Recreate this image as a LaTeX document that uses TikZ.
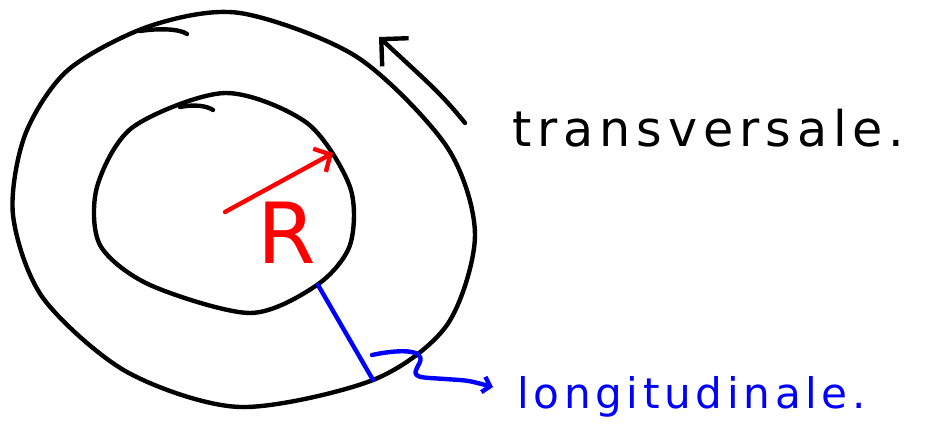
\documentclass[tikz,border=0pt]{standalone}
\usepackage{fontspec}
\usepackage{tikz}
\usetikzlibrary{arrows.meta,positioning}

\newfontfamily\handfont[LetterSpace=12]{DejaVu Sans}
\newfontfamily\handwide[LetterSpace=11]{DejaVu Sans}

\tikzset{
  pen/.style={line width=2.5pt, line cap=round, line join=round},
  redpen/.style={pen, red},
  bluepen/.style={pen, blue},
  word/.style={inner sep=0pt, anchor=base west},
}

\begin{document}
\begin{tikzpicture}[x=0.02cm, y=-0.02cm]
\useasboundingbox (0,0) rectangle (928,442);

% Outer ring
\draw[pen] plot[smooth cycle] coordinates {(240,13) (357,57) (447,147) (475,235) (447,325)
    (373,380) (240,407) (127,372) (43,298) (13,215) (25,135) (68,70) (150,26)};
\draw[pen] (140,31) .. controls (160,28) and (180,29) .. (187,34);

% Inner ring
\draw[pen] plot[smooth cycle] coordinates {(225,93) (307,123) (350,187) (350,245) (317,285)
    (250,313) (150,285) (100,245) (97,187) (133,127)};
\draw[pen] (180,107) .. controls (195,104) and (207,106) .. (213,110);

% Radius
\coordinate (centre) at (225,212);
\coordinate (rim) at (333,153);
\draw[redpen, -{Straight Barb[length=7pt, width=15pt]}] (centre) -- (rim);
\node[red, inner sep=0pt, font=\handfont\fontsize{48}{48}\selectfont] (rad) at (287,233) {R};

% Transversal direction
\node[word, font=\handfont\fontsize{28}{28}\selectfont] (trans) at (512,147) {transversale.};
\coordinate (tstart) at (465,123);
\coordinate (ttip) at (379,37);
\draw[pen, -{Straight Barb[length=11pt, width=22pt]}] (tstart) .. controls (440,92) and (425,80) .. (ttip);

% Longitudinal direction
\node[word, blue, font=\handwide\fontsize{24}{24}\selectfont] (long) at (517,408) {longitudinale.};
\coordinate (lin) at (318,285);
\coordinate (lout) at (373,380);
\draw[bluepen] (lin) -- (lout);
\coordinate (ltip) at ([shift={(-24,-21)}]long.base west);
\draw[bluepen, -{Straight Barb[length=4pt, width=9pt]}] (372,355) .. controls (395,350) and (425,348) .. (420,362)
    .. controls (415,372) and (410,377) .. (430,378) -- (460,380) .. controls (470,381) .. (ltip);
\end{tikzpicture}
\end{document}
